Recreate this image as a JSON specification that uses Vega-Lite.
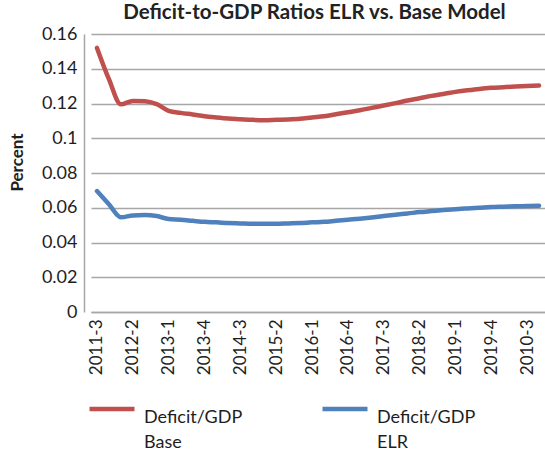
{
  "$schema": "https://vega.github.io/schema/vega-lite/v6.json",
  "autosize": {"type": "none"},
  "width": 461,
  "height": 278,
  "padding": {"top": 34, "left": 84, "right": 0, "bottom": 139},
  "background": "white",
  "config": {
    "view": {"stroke": null},
    "font": "Lato",
    "style": {"guide-label": {"lineHeight": 25}}
  },
  "title": {
    "text": "Deficit-to-GDP Ratios  ELR vs. Base Model",
    "font": "Lato",
    "fontSize": 20.5,
    "fontWeight": "bold",
    "color": "#222222",
    "anchor": "middle",
    "baseline": "alphabetic",
    "offset": -14
  },
  "data": {
    "values": [
      {"q": "2011-3", "Deficit/GDP Base": 0.152, "Deficit/GDP ELR": 0.0696},
      {"q": "2011-4", "Deficit/GDP Base": 0.134, "Deficit/GDP ELR": 0.062},
      {"q": "2012-1", "Deficit/GDP Base": 0.1195, "Deficit/GDP ELR": 0.0545},
      {"q": "2012-2", "Deficit/GDP Base": 0.1215, "Deficit/GDP ELR": 0.0556},
      {"q": "2012-3", "Deficit/GDP Base": 0.1213, "Deficit/GDP ELR": 0.0558},
      {"q": "2012-4", "Deficit/GDP Base": 0.1196, "Deficit/GDP ELR": 0.0552},
      {"q": "2013-1", "Deficit/GDP Base": 0.1158, "Deficit/GDP ELR": 0.0535},
      {"q": "2013-2", "Deficit/GDP Base": 0.1146, "Deficit/GDP ELR": 0.0531},
      {"q": "2013-3", "Deficit/GDP Base": 0.1137, "Deficit/GDP ELR": 0.0525},
      {"q": "2013-4", "Deficit/GDP Base": 0.1127, "Deficit/GDP ELR": 0.0519},
      {"q": "2014-1", "Deficit/GDP Base": 0.112, "Deficit/GDP ELR": 0.0516},
      {"q": "2014-2", "Deficit/GDP Base": 0.1114, "Deficit/GDP ELR": 0.0512},
      {"q": "2014-3", "Deficit/GDP Base": 0.111, "Deficit/GDP ELR": 0.051},
      {"q": "2014-4", "Deficit/GDP Base": 0.1106, "Deficit/GDP ELR": 0.0508},
      {"q": "2015-1", "Deficit/GDP Base": 0.1104, "Deficit/GDP ELR": 0.0508},
      {"q": "2015-2", "Deficit/GDP Base": 0.1106, "Deficit/GDP ELR": 0.0508},
      {"q": "2015-3", "Deficit/GDP Base": 0.1108, "Deficit/GDP ELR": 0.051},
      {"q": "2015-4", "Deficit/GDP Base": 0.1112, "Deficit/GDP ELR": 0.0512},
      {"q": "2016-1", "Deficit/GDP Base": 0.112, "Deficit/GDP ELR": 0.0516},
      {"q": "2016-2", "Deficit/GDP Base": 0.1127, "Deficit/GDP ELR": 0.0519},
      {"q": "2016-3", "Deficit/GDP Base": 0.1138, "Deficit/GDP ELR": 0.0525},
      {"q": "2016-4", "Deficit/GDP Base": 0.115, "Deficit/GDP ELR": 0.0531},
      {"q": "2017-1", "Deficit/GDP Base": 0.1161, "Deficit/GDP ELR": 0.0537},
      {"q": "2017-2", "Deficit/GDP Base": 0.1175, "Deficit/GDP ELR": 0.0544},
      {"q": "2017-3", "Deficit/GDP Base": 0.1188, "Deficit/GDP ELR": 0.0552},
      {"q": "2017-4", "Deficit/GDP Base": 0.1202, "Deficit/GDP ELR": 0.056},
      {"q": "2018-1", "Deficit/GDP Base": 0.1217, "Deficit/GDP ELR": 0.0567},
      {"q": "2018-2", "Deficit/GDP Base": 0.123, "Deficit/GDP ELR": 0.0575},
      {"q": "2018-3", "Deficit/GDP Base": 0.1244, "Deficit/GDP ELR": 0.0581},
      {"q": "2018-4", "Deficit/GDP Base": 0.1255, "Deficit/GDP ELR": 0.0587},
      {"q": "2019-1", "Deficit/GDP Base": 0.1267, "Deficit/GDP ELR": 0.0592},
      {"q": "2019-2", "Deficit/GDP Base": 0.1276, "Deficit/GDP ELR": 0.0596},
      {"q": "2019-3", "Deficit/GDP Base": 0.1284, "Deficit/GDP ELR": 0.06},
      {"q": "2019-4", "Deficit/GDP Base": 0.129, "Deficit/GDP ELR": 0.0604},
      {"q": "2010-1", "Deficit/GDP Base": 0.1294, "Deficit/GDP ELR": 0.0606},
      {"q": "2010-2", "Deficit/GDP Base": 0.1298, "Deficit/GDP ELR": 0.0608},
      {"q": "2010-3", "Deficit/GDP Base": 0.1301, "Deficit/GDP ELR": 0.061},
      {"q": "2010-4", "Deficit/GDP Base": 0.1303, "Deficit/GDP ELR": 0.0611}
    ]
  },
  "transform": [
    {"fold": ["Deficit/GDP Base", "Deficit/GDP ELR"], "as": ["series", "ratio"]}
  ],
  "mark": {"type": "line", "interpolate": "monotone", "strokeWidth": 4.5, "strokeCap": "round", "strokeJoin": "round"},
  "encoding": {
    "x": {
      "field": "q",
      "type": "ordinal",
      "sort": null,
      "scale": {"type": "point", "range": [7, 461]},
      "axis": {
        "title": null,
        "values": ["2011-3", "2012-2", "2013-1", "2013-4", "2014-3", "2015-2", "2016-1", "2016-4", "2017-3", "2018-2", "2019-1", "2019-4", "2010-3"],
        "labelAngle": -90,
        "labelFont": "Lato",
        "labelFontSize": 17,
        "labelColor": "#1e1e1e",
        "labelPadding": 7,
        "ticks": false,
        "grid": false,
        "domainColor": "#a6a6a6",
        "domainWidth": 1.5
      }
    },
    "y": {
      "field": "ratio",
      "type": "quantitative",
      "scale": {"domain": [0, 0.16], "nice": false},
      "axis": {
        "title": "Percent",
        "titleFont": "Lato",
        "titleFontSize": 17,
        "titleFontWeight": "bold",
        "titleColor": "#1e1e1e",
        "titleAngle": -90,
        "titleBaseline": "middle",
        "titleAlign": "center",
        "titleX": -67,
        "titleY": 128,
        "values": [0, 0.02, 0.04, 0.06, 0.08, 0.1, 0.12, 0.14, 0.16],
        "format": "~g",
        "labelFont": "Lato",
        "labelFontSize": 18,
        "labelColor": "#1e1e1e",
        "labelPadding": 7,
        "ticks": false,
        "gridColor": "#a6a6a6",
        "gridWidth": 1.5,
        "domainColor": "#a6a6a6",
        "domainWidth": 1.5
      }
    },
    "color": {
      "field": "series",
      "type": "nominal",
      "scale": {"domain": ["Deficit/GDP Base", "Deficit/GDP ELR"], "range": ["#c0504d", "#4f81bd"]},
      "legend": {
        "title": null,
        "orient": "none",
        "legendX": 3,
        "legendY": 350,
        "direction": "horizontal",
        "columns": 2,
        "columnPadding": 70,
        "padding": 0,
        "symbolType": "stroke",
        "symbolSize": 2025,
        "symbolStrokeWidth": 4.5,
        "labelFont": "Lato",
        "labelFontSize": 18,
        "labelColor": "#1e1e1e",
        "labelOffset": 7,
        "labelLimit": 300,
        "labelBaseline": "top",
        "labelExpr": "split(datum.label, ' ')"
      }
    }
  }
}
